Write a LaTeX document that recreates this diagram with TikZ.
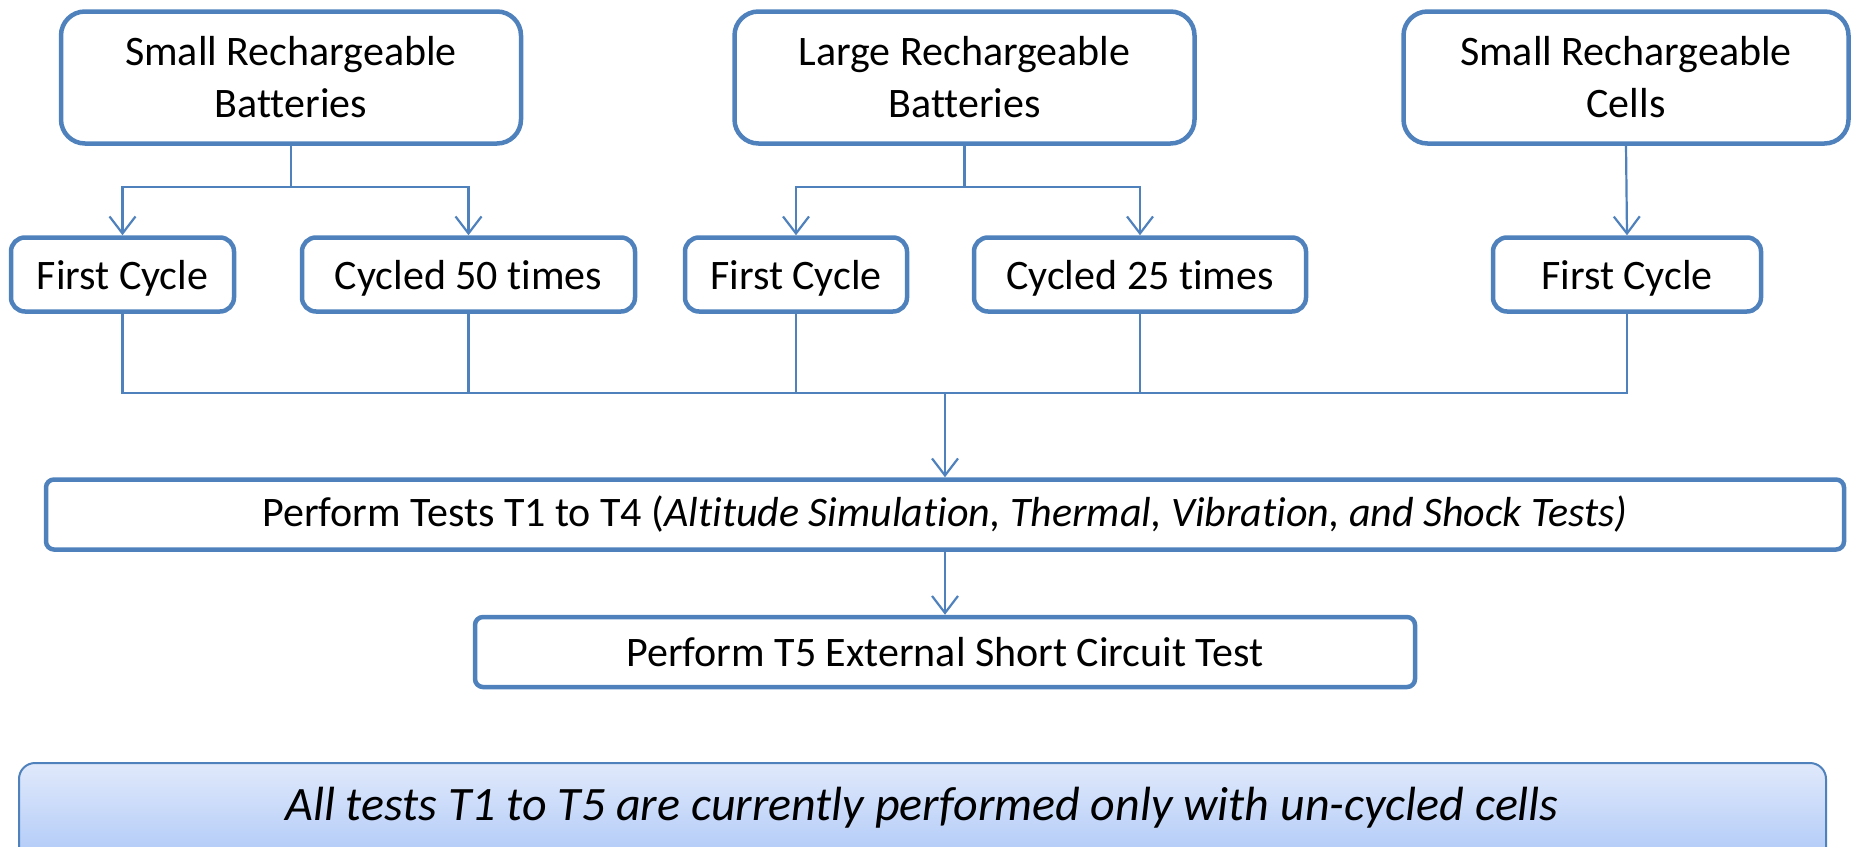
\documentclass[tikz,border=0pt]{standalone}
\usepackage{fontspec}
\setmainfont[Ligatures={NoCommon,NoRequired,NoContextual},Contextuals={NoAlternate}]{Carlito}
\usetikzlibrary{arrows.meta}
\definecolor{boxblue}{HTML}{4F81BD}
\definecolor{bantop}{HTML}{E0E9FB}
\definecolor{banbot}{HTML}{A6C3F7}
\tikzset{
  bigbox/.style={draw=boxblue, line width=4.5pt, rounded corners=24pt, align=center, inner sep=0pt, minimum height=132pt,
    font=\fontsize{42}{52}\selectfont},
  smallbox/.style={draw=boxblue, line width=4.5pt, rounded corners=14pt, align=center, inner sep=0pt, minimum height=74pt,
    text depth=0pt, font=\fontsize{42}{52}\selectfont},
  widebox/.style={draw=boxblue, line width=4.5pt, rounded corners=8pt, align=center, inner sep=0pt, minimum height=70pt,
    font=\fontsize{42}{52}\selectfont},
  conn/.style={draw=boxblue, line width=2.2pt},
  arr/.style={conn, -{Straight Barb[length=17pt,width=26pt,line width=2.2pt]}},
}
\begin{document}
\begin{tikzpicture}[x=1pt,y=-1pt]
\useasboundingbox (0,0) rectangle (1851,846);
% top boxes
\node[bigbox, minimum width=460pt] (A) at (291,77.5) {Small Rechargeable\\Batteries};
\node[bigbox, minimum width=460pt] (B) at (964.5,77.5) {Large Rechargeable\\Batteries};
\node[bigbox, minimum width=445pt] (C) at (1626,77.5) {Small Rechargeable\\Cells};
% second row
\node[smallbox, minimum width=223pt] (FC1) at (122.5,274.5) {First Cycle};
\node[smallbox, minimum width=333pt] (C50) at (468.5,274.5) {Cycled 50 times};
\node[smallbox, minimum width=222pt] (FC2) at (796,274.5) {First Cycle};
\node[smallbox, minimum width=332pt] (C25) at (1140,274.5) {Cycled 25 times};
\node[smallbox, minimum width=268pt] (FC3) at (1627,274.5) {First Cycle};
% tests
\node[widebox, minimum width=1798pt] (T14) at (945,514.5) {Perform Tests T1 to T4 (\textit{Altitude Simulation, Thermal, Vibration, and Shock Tests)}};
\node[widebox, minimum width=940pt] (T5) at (945,652) {Perform T5 External Short Circuit Test};
% branches
\coordinate (ja) at (291,187);
\coordinate (jb) at (964.5,187);
\draw[conn] (A.south) -- (ja);
\draw[arr] (ja) -| (FC1.north);
\draw[arr] (ja) -| (C50.north);
\draw[conn] (B.south) -- (jb);
\draw[arr] (jb) -| (FC2.north);
\draw[arr] (jb) -| (C25.north);
\draw[arr] (C.south) -- (FC3.north);
% collector
\coordinate (bus) at (945,393);
\draw[conn] (FC1.south) -- (FC1.south |- bus) -- (FC3.south |- bus) -- (FC3.south);
\draw[conn] (C50.south) -- (C50.south |- bus);
\draw[conn] (FC2.south) -- (FC2.south |- bus);
\draw[conn] (C25.south) -- (C25.south |- bus);
\draw[arr] (bus) -- (T14.north);
\draw[arr] (T14.south) -- (T5.north);
% banner
\begin{scope}
\clip (0,0) rectangle (1851,846);
\draw[draw=boxblue, line width=2pt, rounded corners=16pt, top color=bantop, bottom color=banbot] (19,763) rectangle (1826,880);
\end{scope}
\node[font=\fontsize{48}{56}\selectfont\itshape] (ban) at (922,808) {All tests T1 to T5 are currently performed only with un-cycled cells};
\end{tikzpicture}
\end{document}
